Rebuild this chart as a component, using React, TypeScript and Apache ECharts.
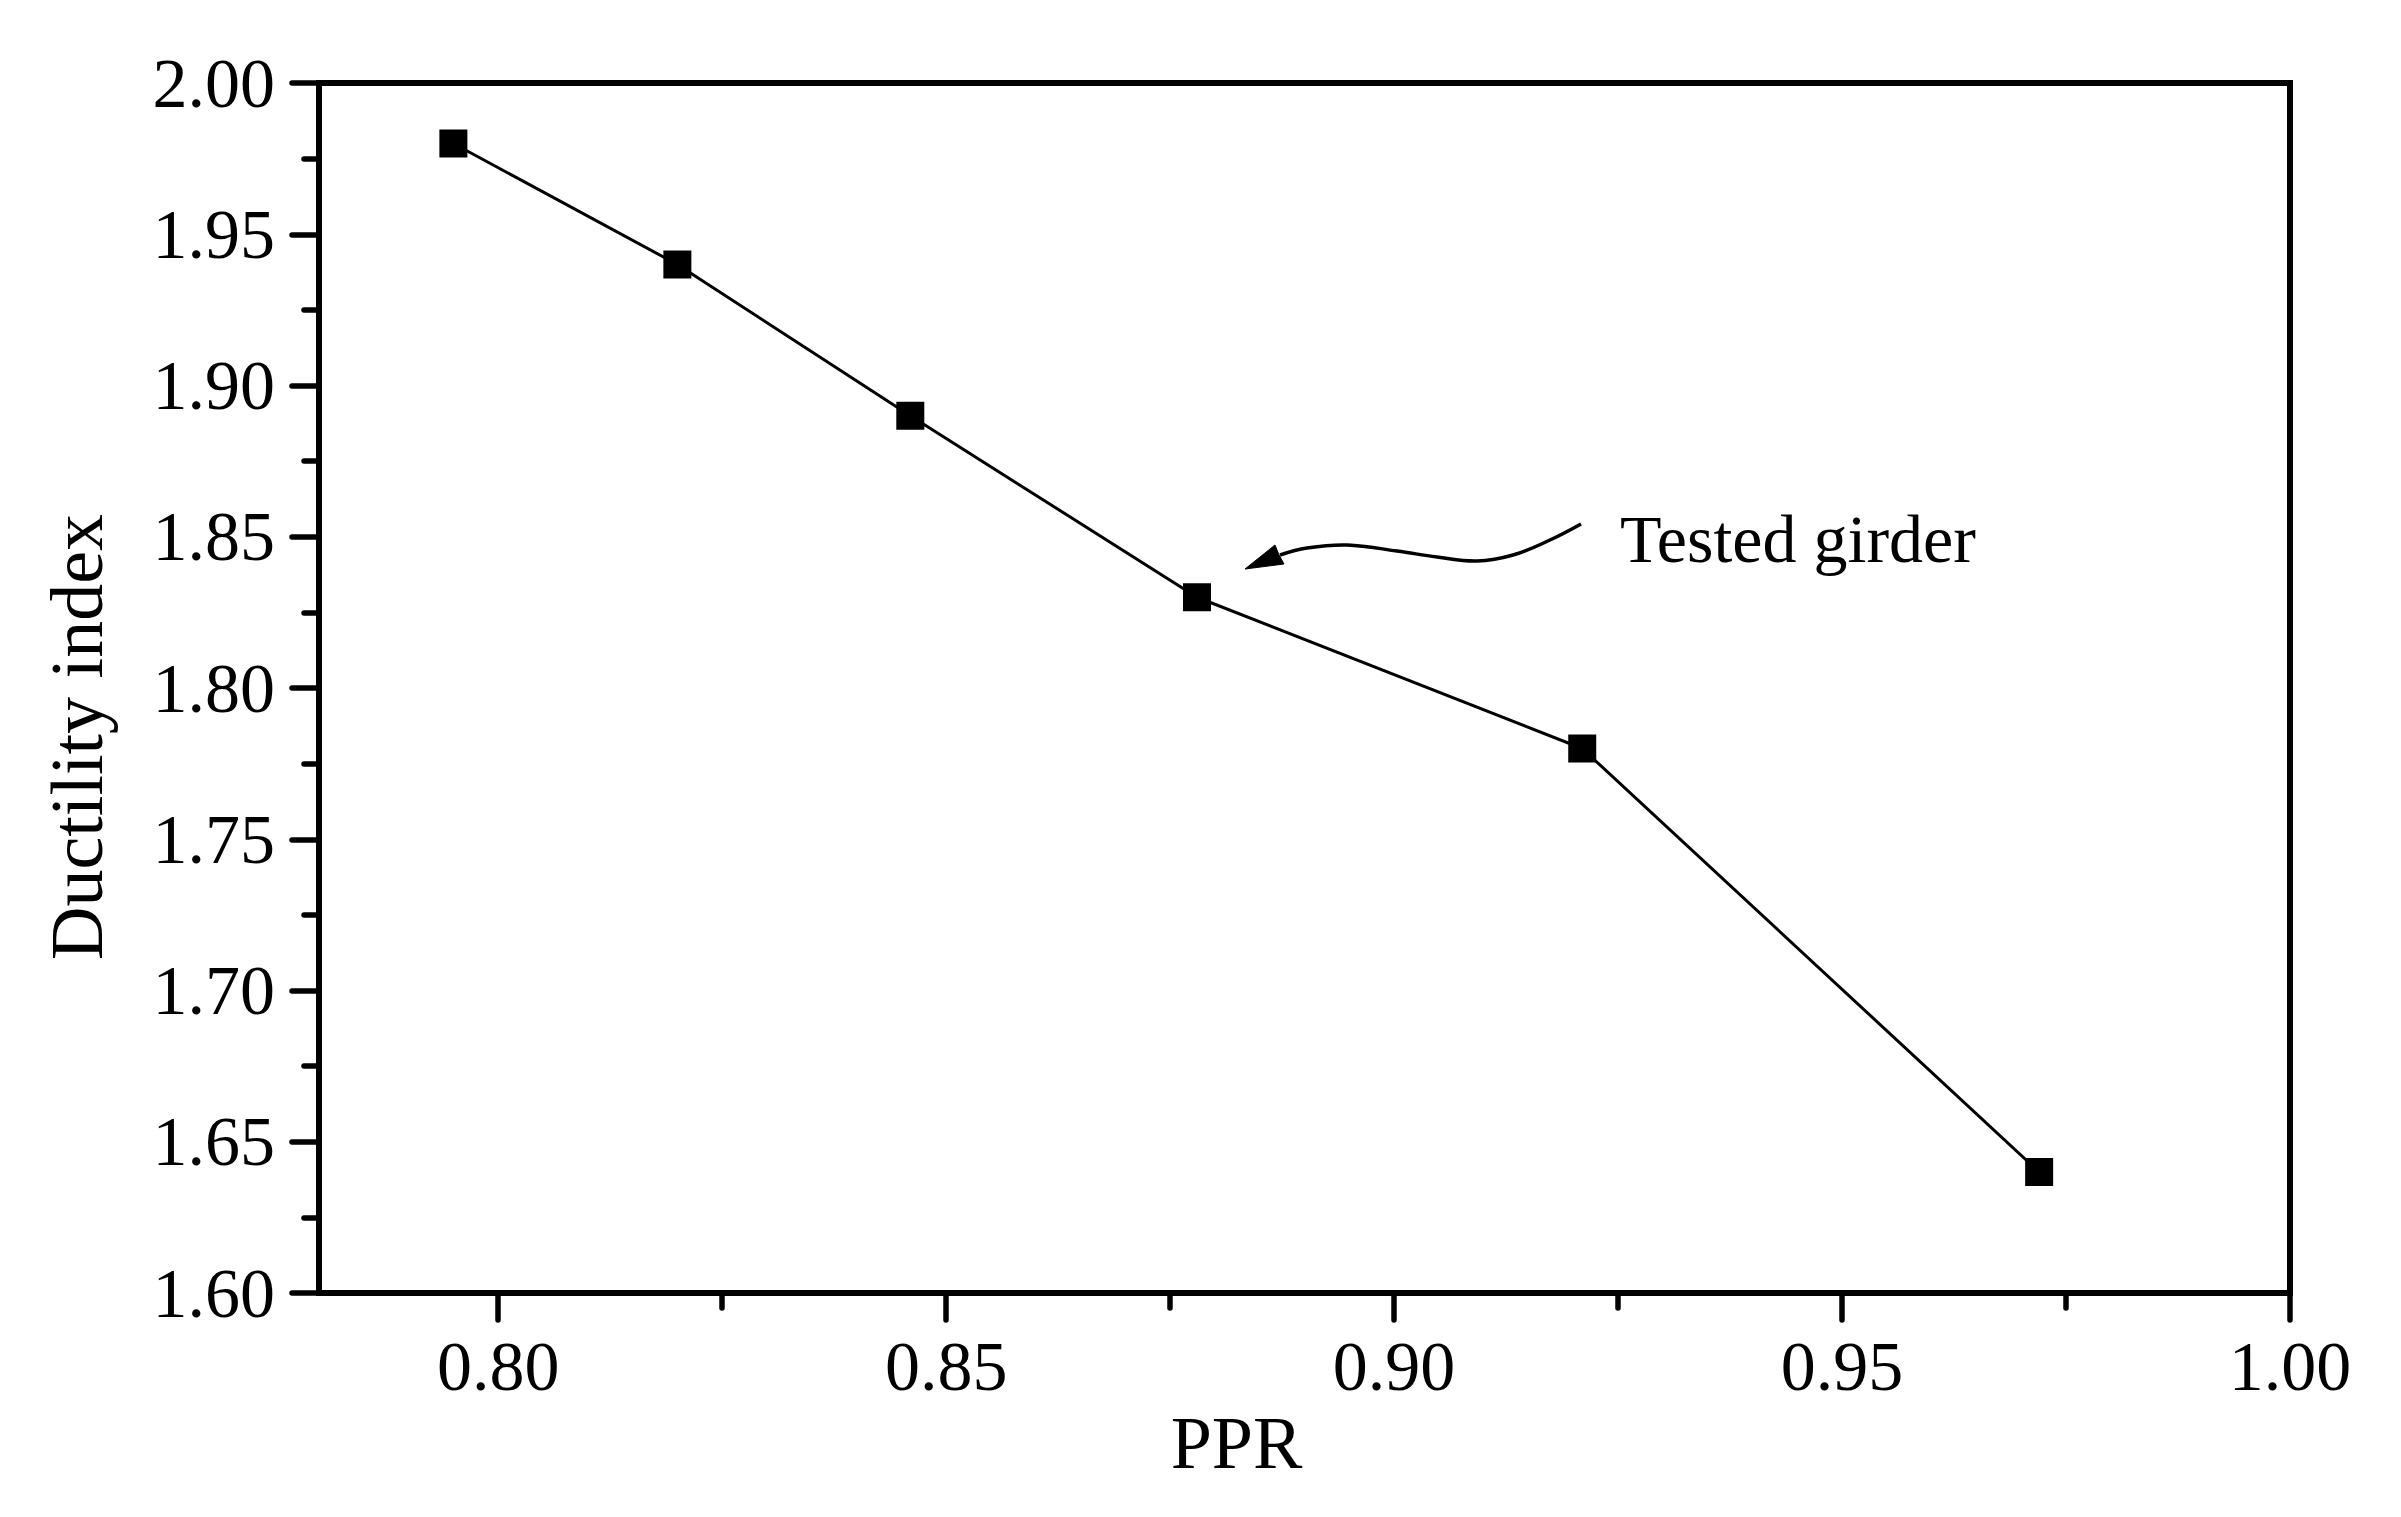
import React, { useEffect, useRef } from 'react';
import * as echarts from 'echarts';

// PPR vs ductility index
const ppr = [0.795, 0.82, 0.846, 0.878, 0.921, 0.972];
const ductility = [1.98, 1.94, 1.89, 1.83, 1.78, 1.64];

const xMajorTicks = [0.8, 0.85, 0.9, 0.95, 1.0];
const xMinorTicks = [0.825, 0.875, 0.925, 0.975];

const annotationText = 'Tested girder';

const FONT = '"Liberation Serif", "Times New Roman", serif';

export default function App() {
  const chartRef = useRef<HTMLDivElement>(null);

  useEffect(() => {
    if (!chartRef.current) return;
    document.body.style.margin = '0';

    const chart = echarts.init(chartRef.current, null, { renderer: 'svg' });

    const axisLineStyle = { color: '#000', width: 6 };
    const tickStyle = { color: '#000', width: 5.5, cap: 'round' as const };

    const option: echarts.EChartsOption = {
      animation: false,
      backgroundColor: '#fff',
      grid: {
        left: 319,
        right: 111,
        top: 83,
        bottom: 224,
        show: true,
        borderColor: '#000',
        borderWidth: 6,
        containLabel: false
      },
      xAxis: [
        {
          type: 'value',
          position: 'bottom',
          min: 0.78,
          max: 1.0,
          name: 'PPR',
          nameLocation: 'middle',
          nameGap: 98,
          nameTextStyle: {
            fontFamily: FONT,
            fontSize: 74,
            color: '#000',
            padding: [0, 136, 0, 0]
          },
          axisLine: { show: true, lineStyle: axisLineStyle },
          axisTick: {
            show: true,
            inside: false,
            length: 27,
            customValues: xMajorTicks,
            lineStyle: tickStyle
          },
          axisLabel: {
            customValues: xMajorTicks,
            formatter: (v: number) => v.toFixed(2),
            fontFamily: FONT,
            fontSize: 70,
            color: '#000',
            margin: 38
          },
          splitLine: { show: false }
        },
        {
          type: 'value',
          position: 'bottom',
          min: 0.78,
          max: 1.0,
          axisLine: { show: false },
          axisTick: {
            show: true,
            inside: false,
            length: 15,
            customValues: xMinorTicks,
            lineStyle: tickStyle
          },
          axisLabel: { show: false },
          splitLine: { show: false }
        }
      ],
      yAxis: {
        type: 'value',
        min: 1.6,
        max: 2.0,
        interval: 0.05,
        name: 'Ductility index',
        nameLocation: 'middle',
        nameGap: 205,
        nameTextStyle: {
          fontFamily: FONT,
          fontSize: 74,
          color: '#000',
          padding: [0, 98, 0, 0]
        },
        axisLine: { show: true, lineStyle: axisLineStyle },
        axisTick: { show: true, inside: false, length: 27, lineStyle: tickStyle },
        minorTick: { show: true, splitNumber: 2, length: 15, lineStyle: tickStyle },
        axisLabel: {
          formatter: (v: number) => v.toFixed(2),
          fontFamily: FONT,
          fontSize: 70,
          color: '#000',
          margin: 44
        },
        splitLine: { show: false },
        minorSplitLine: { show: false }
      },
      series: [
        {
          type: 'line',
          xAxisIndex: 0,
          data: ppr.map((x, i) => [x, ductility[i]]),
          symbol: 'rect',
          symbolSize: 28,
          itemStyle: { color: '#000' },
          lineStyle: { color: '#000', width: 3 }
        }
      ],
      graphic: [
        {
          type: 'polyline',
          shape: {
            points: [
              [1581, 524],
              [1550, 540],
              [1513, 555],
              [1477, 561],
              [1437, 557],
              [1397, 551],
              [1347, 545],
              [1307, 548],
              [1280, 555]
            ],
            smooth: 0.4
          },
          style: { stroke: '#000', lineWidth: 3.5, fill: 'none' }
        },
        {
          type: 'polygon',
          shape: {
            points: [
              [1245, 569],
              [1275, 545],
              [1279, 555],
              [1284, 564]
            ]
          },
          style: { fill: '#000', stroke: '#000', lineWidth: 1 }
        },
        {
          type: 'text',
          x: 1620,
          y: 539,
          style: {
            text: annotationText,
            fontFamily: FONT,
            fontSize: 68,
            fill: '#000',
            verticalAlign: 'middle',
            align: 'left'
          }
        }
      ]
    };

    chart.setOption(option);

    return () => {
      chart.dispose();
    };
  }, []);

  return <div ref={chartRef} style={{ width: 2401, height: 1517 }} />;
}
